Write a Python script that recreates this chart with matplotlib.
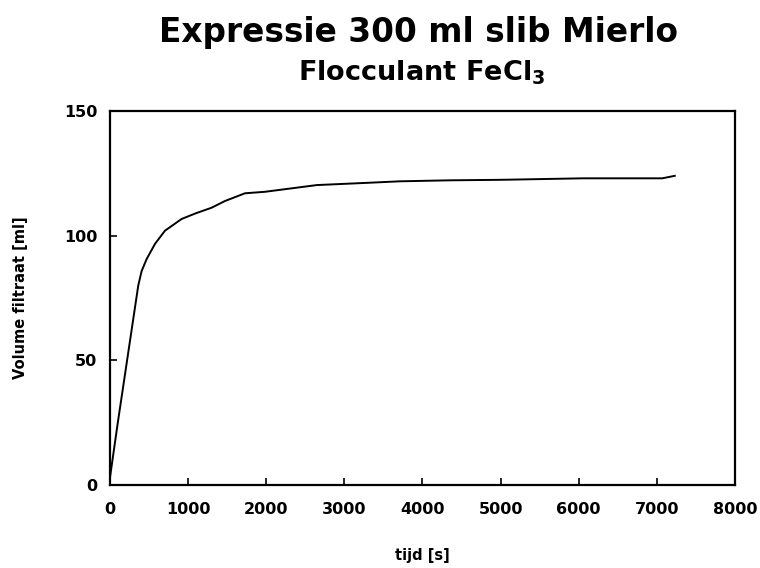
import matplotlib
matplotlib.use("Agg")
import matplotlib.pyplot as plt

# filtrate volume during expression
tijd = [0, 100, 200, 300, 362, 405, 469, 576, 704, 917, 1100, 1300, 1472,
        1728, 1984, 2650, 3300, 3710, 4350, 5000, 6050, 7070, 7230]
volume = [3, 25, 46, 67, 80, 85.8, 90.6, 96.7, 102, 106.7, 109, 111.2, 113.9,
          117, 117.6, 120.3, 121.2, 121.8, 122.2, 122.4, 123, 123, 124]

x_ticks = [0, 1000, 2000, 3000, 4000, 5000, 6000, 7000, 8000]
y_ticks = [0, 50, 100, 150]

plt.rcParams['font.family'] = ['DejaVu Sans']
plt.rcParams['font.weight'] = 'bold'
plt.rcParams['mathtext.fontset'] = 'custom'
plt.rcParams['mathtext.rm'] = 'DejaVu Sans:bold'
plt.rcParams['mathtext.bf'] = 'DejaVu Sans:bold'

fig = plt.figure(figsize=(7.6, 5.68), dpi=100)
ax = fig.add_axes([0.1447, 0.146, 0.8223, 0.6586])

ax.plot(tijd, volume, color='black', linewidth=1.4)

ax.set_xlim(0, 8000)
ax.set_ylim(0, 150)
ax.set_xticks(x_ticks)
ax.set_yticks(y_ticks)
ax.tick_params(direction='in', length=5, width=1.2, labelsize=11.5)
ax.tick_params(axis='x', pad=12)
ax.tick_params(axis='y', pad=9)
for lbl in ax.get_xticklabels() + ax.get_yticklabels():
    lbl.set_fontweight('bold')
for s in ax.spines.values():
    s.set_linewidth(1.6)

ax.set_xlabel('tijd [s]', fontsize=10.5, fontweight='bold')
ax.set_ylabel('Volume filtraat [ml]', fontsize=10.5, fontweight='bold')
ax.xaxis.set_label_coords(0.5, -0.168)
ax.yaxis.set_label_coords(-0.131, 0.5)

fig.text(0.551, 0.926, 'Expressie 300 ml slib Mierlo', ha='center', va='baseline',
         fontsize=23.6, fontweight='bold')
fig.text(0.555, 0.859, 'Flocculant FeCl$_3$', ha='center', va='baseline',
         fontsize=19.5, fontweight='bold')

fig.savefig('out.png', dpi=100)
